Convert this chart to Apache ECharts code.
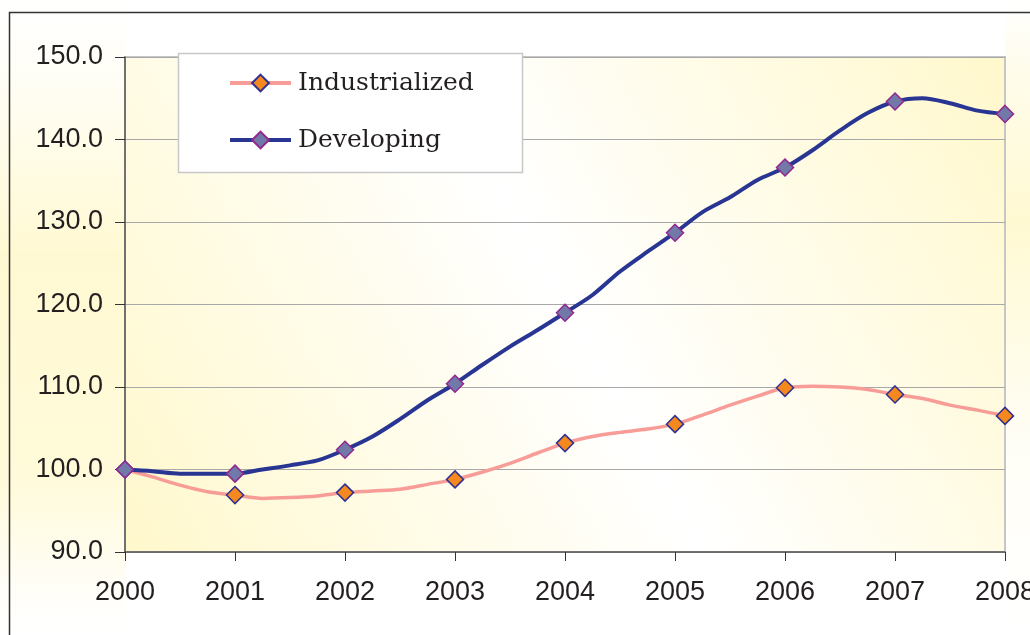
<!DOCTYPE html>
<html>
<head>
<meta charset="utf-8">
<script src="https://cdn.jsdelivr.net/npm/echarts@6/dist/echarts.min.js"></script>
<style>
html,body{margin:0;padding:0;background:#fff;}
#chart{width:1030px;height:635px;}
</style>
</head>
<body>
<div id="chart"></div>
<script>
// Quarterly time points (markers shown at whole years)
var quarters = [2000, 2000.25, 2000.5, 2000.75, 2001, 2001.25, 2001.5, 2001.75,
  2002, 2002.25, 2002.5, 2002.75, 2003, 2003.25, 2003.5, 2003.75,
  2004, 2004.25, 2004.5, 2004.75, 2005, 2005.25, 2005.5, 2005.75,
  2006, 2006.25, 2006.5, 2006.75, 2007, 2007.25, 2007.5, 2007.75, 2008];
var seriesNames = ['Industrialized', 'Developing'];
var industrialized = [100.0, 99.1, 98.1, 97.3, 96.9, 96.5, 96.6, 96.8,
  97.2, 97.4, 97.6, 98.2, 98.8, 99.7, 100.75, 102.0,
  103.2, 104.0, 104.5, 104.9, 105.5, 106.6, 107.8, 108.9,
  109.9, 110.1, 110.0, 109.7, 109.1, 108.6, 107.8, 107.2, 106.5];
var developing = [100.0, 99.8, 99.5, 99.5, 99.5, 100.0, 100.5, 101.1,
  102.4, 104.0, 106.1, 108.4, 110.4, 112.7, 114.9, 116.9,
  119.0, 121.15, 124.0, 126.4, 128.7, 131.2, 133.0, 135.1,
  136.6, 138.7, 141.1, 143.2, 144.6, 145.0, 144.4, 143.5, 143.1];
var yMin = 90, yMax = 150, yStep = 10;
var xMin = 2000, xMax = 2008, xStep = 1;

function build(values) {
  return values.map(function (v, i) {
    var item = { value: [quarters[i], v] };
    if (quarters[i] % 1 !== 0) item.symbol = 'none';
    return item;
  });
}

var yellow = '#fff8cc';
var chart = echarts.init(document.getElementById('chart'));
chart.setOption({
  animation: false,
  backgroundColor: '#ffffff',
  graphic: [
    { type: 'rect', z: -20, silent: true,
      shape: { x: 0, y: 0, width: 125, height: 635 },
      style: { fill: {
        type: 'linear', x: 0, y: 0, x2: 0, y2: 1,
        colorStops: [
          { offset: 0, color: '#ffffff' },
          { offset: 0.12, color: '#fffef6' },
          { offset: 0.4, color: '#fff9d3' },
          { offset: 0.75, color: '#fffad9' },
          { offset: 0.93, color: '#fffef8' },
          { offset: 1, color: '#ffffff' }
        ]
      } } },
    { type: 'rect', z: -20, silent: true,
      shape: { x: 1005, y: 0, width: 25, height: 635 },
      style: { fill: {
        type: 'linear', x: 0, y: 0, x2: 0, y2: 1,
        colorStops: [
          { offset: 0, color: '#ffffff' },
          { offset: 0.12, color: '#fffcea' },
          { offset: 0.35, color: '#fff9d2' },
          { offset: 0.7, color: '#fffef6' },
          { offset: 1, color: '#ffffff' }
        ]
      } } },
    { type: 'rect', z: -10, silent: true,
      shape: { x: 9.5, y: 12.5, width: 1100, height: 700 },
      style: { fill: 'none', stroke: '#333333', lineWidth: 1.5 } },
    { type: 'rect', z: 50, silent: true,
      shape: { x: 178.5, y: 53.5, width: 344, height: 119 },
      style: { fill: '#ffffff', stroke: '#c8c8c8', lineWidth: 1.5 } }
  ],
  grid: {
    left: 125, right: 25, top: 57, bottom: 83,
    outerBoundsMode: 'none',
    containLabel: false,
    show: true,
    borderColor: '#c6c6c6', borderWidth: 2,
    backgroundColor: {
      type: 'linear', x: 0, y: 1, x2: 1, y2: 0,
      colorStops: [
        { offset: 0, color: yellow },
        { offset: 0.5, color: '#ffffff' },
        { offset: 1, color: yellow }
      ]
    }
  },
  legend: {
    z: 60,
    orient: 'vertical',
    left: 228, top: 70.5,
    padding: 0,
    itemWidth: 61, itemHeight: 21, itemGap: 32,
    data: seriesNames,
    lineStyle: { width: 4 },
    textStyle: { fontFamily: 'DejaVu Serif', fontSize: 25, color: '#231f20', padding: [0, 0, 0, 2] }
  },
  xAxis: {
    type: 'value', min: xMin, max: xMax, interval: xStep,
    axisLine: { show: true, onZero: false, lineStyle: { color: '#555555', width: 1.5 } },
    axisTick: { show: true, length: 9, lineStyle: { color: '#333333', width: 1 } },
    splitLine: { show: false },
    axisLabel: {
      margin: 27, fontFamily: 'Liberation Sans', fontSize: 27, color: '#231f20',
      hideOverlap: false, showMaxLabel: true, showMinLabel: true,
      formatter: function (v) { return String(v); }
    }
  },
  yAxis: {
    type: 'value', min: yMin, max: yMax, interval: yStep,
    axisLine: { show: true, lineStyle: { color: '#555555', width: 1.5 } },
    axisTick: { show: true, length: 10, lineStyle: { color: '#333333', width: 1 } },
    splitLine: { show: true, lineStyle: { color: '#a8a8a8', width: 1 } },
    axisLabel: {
      margin: 22, fontFamily: 'Liberation Sans', fontSize: 27, color: '#231f20',
      formatter: function (v) { return v.toFixed(1); }
    }
  },
  series: [
    {
      name: seriesNames[0], type: 'line', smooth: 0.3,
      data: build(industrialized),
      symbol: 'diamond', symbolSize: 17,
      lineStyle: { color: '#f79c97', width: 3.5 },
      itemStyle: { color: '#f5891f', borderColor: '#2e3192', borderWidth: 1.5 },
      z: 3
    },
    {
      name: seriesNames[1], type: 'line', smooth: 0.3,
      data: build(developing),
      symbol: 'diamond', symbolSize: 17,
      lineStyle: { color: '#283593', width: 4 },
      itemStyle: { color: '#7179a9', borderColor: '#92278f', borderWidth: 1.5 },
      z: 4
    }
  ]
});
</script>
</body>
</html>
